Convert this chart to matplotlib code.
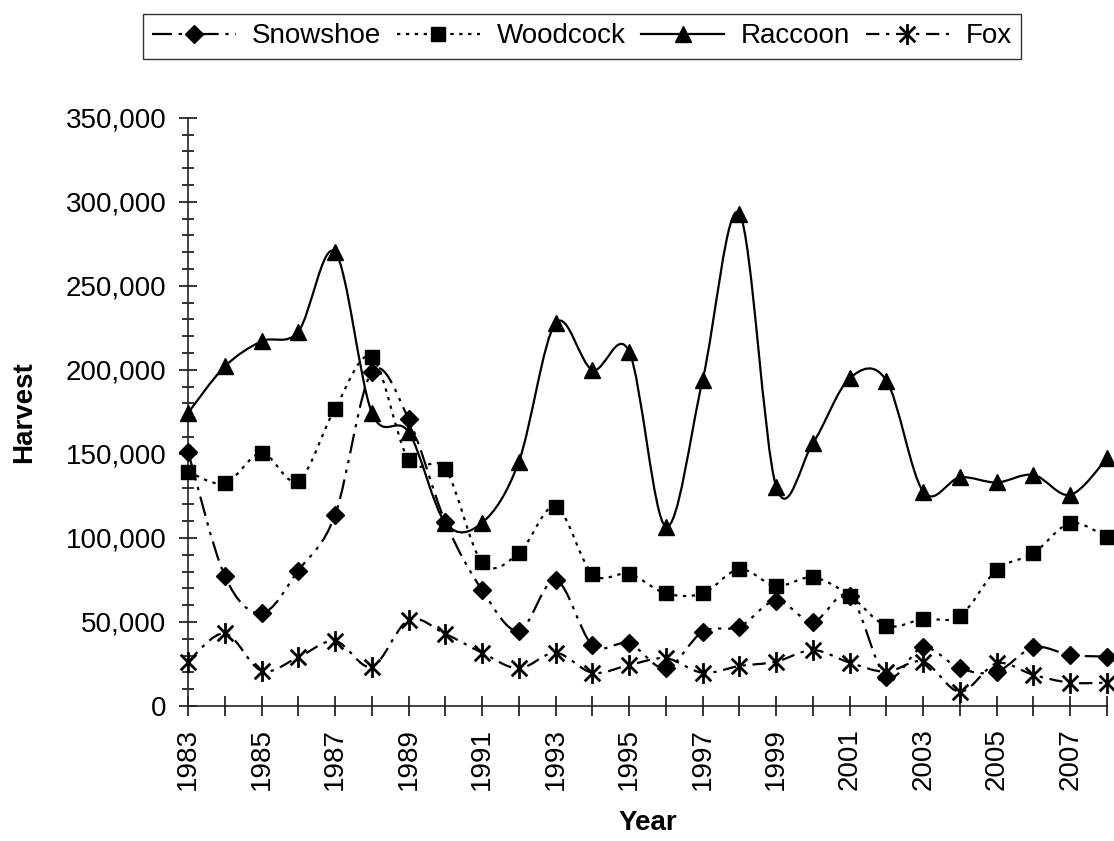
import numpy as np
import matplotlib.pyplot as plt
from matplotlib.path import Path
from matplotlib.patches import PathPatch
from matplotlib.lines import Line2D
from matplotlib.ticker import MultipleLocator, FuncFormatter

plt.rcParams['font.family'] = ['Liberation Sans', 'DejaVu Sans']

years = list(range(1983, 2009))
snowshoe = [151400, 77400, 55200, 80600, 113700, 198800, 170800, 109500, 69000, 44800,
            75000, 36300, 37300, 22400, 44200, 47200, 62700, 50200, 65700, 17500,
            34900, 22400, 20400, 34900, 30400, 29400]
woodcock = [139500, 132500, 150400, 134000, 177000, 207500, 146400, 141000, 85500, 90900,
            118600, 78600, 78600, 67000, 67000, 81400, 71400, 76600, 65700, 47800,
            51800, 53600, 81000, 90900, 108800, 100400]
raccoon = [174400, 202000, 217000, 222800, 270000, 174600, 163000, 109000, 109000, 145400,
           227800, 200000, 210900, 106700, 194000, 293000, 130500, 156400, 195000, 193600,
           127600, 136000, 133000, 137500, 125600, 147400]
fox = [26400, 43200, 21000, 29000, 38700, 23400, 51200, 42900, 31700, 22400,
       31700, 19800, 24400, 28400, 19800, 23800, 26400, 33300, 25800, 20400,
       26400, 8500, 25400, 18500, 13900, 13900]

names = ['Snowshoe', 'Woodcock', 'Raccoon', 'Fox']
series = [snowshoe, woodcock, raccoon, fox]

# asterisk marker like the spreadsheet one: vertical bar plus an X
star = Path([(0, -1), (0, 1), (-0.75, -0.75), (0.75, 0.75), (-0.75, 0.75), (0.75, -0.75)],
            [Path.MOVETO, Path.LINETO, Path.MOVETO, Path.LINETO, Path.MOVETO, Path.LINETO])

styles = [
    dict(ls=(0, (9, 3, 1.5, 3, 1.5, 3)), marker='D', ms=9, mew=1),
    dict(ls=(0, (1.5, 2.5)), marker='s', ms=10, mew=1),
    dict(ls='-', marker='^', ms=11, mew=1),
    dict(ls=(0, (6, 3, 1.5, 3)), marker=star, ms=15, mew=2),
]


def smooth_path(x, y):
    # spreadsheet style smoothed line: cubic bezier through every point
    x = np.asarray(x, float)
    y = np.asarray(y, float)
    pts = np.column_stack([x, y])
    n = len(pts)
    verts = [pts[0]]
    codes = [Path.MOVETO]
    for i in range(n - 1):
        p0 = pts[max(i - 1, 0)]
        p1 = pts[i]
        p2 = pts[i + 1]
        p3 = pts[min(i + 2, n - 1)]
        c1 = p1 + (p2 - p0) / 6.0
        c2 = p2 - (p3 - p1) / 6.0
        verts += [c1, c2, p2]
        codes += [Path.CURVE4] * 3
    return Path(verts, codes)


fig = plt.figure(figsize=(11.14, 8.41), dpi=100)
ax = fig.add_axes([0.1688, 0.1605, 0.9937 - 0.1688, 0.8600 - 0.1605])

handles = []
for name, vals, st in zip(names, series, styles):
    patch = PathPatch(smooth_path(years, vals), fill=False, edgecolor='black',
                      lw=1.6, linestyle=st['ls'], clip_on=False)
    ax.add_patch(patch)
    ax.plot(years, vals, linestyle='none', marker=st['marker'], ms=st['ms'],
            color='black', mec='black', mew=st['mew'], clip_on=False, zorder=3)
    handles.append(Line2D([], [], color='black', lw=1.6, linestyle=st['ls'],
                          marker=st['marker'], ms=st['ms'], mew=st['mew'], label=name))

ax.set_xlim(1983, 2008)
ax.set_ylim(0, 350000)

ax.spines['top'].set_visible(False)
ax.spines['right'].set_visible(False)
for s in ['left', 'bottom']:
    ax.spines[s].set_linewidth(1.2)
    ax.spines[s].set_color('#222222')

ax.yaxis.set_major_locator(MultipleLocator(50000))
ax.yaxis.set_minor_locator(MultipleLocator(10000))
ax.yaxis.set_major_formatter(FuncFormatter(lambda v, p: f'{int(v):,}'))
ax.tick_params(axis='y', which='major', direction='inout', length=13, width=1.1,
               labelsize=20, pad=9)
ax.tick_params(axis='y', which='minor', direction='inout', length=9, width=1.1)

ax.set_xticks(years)
ax.set_xticklabels([str(y) if (y - 1983) % 2 == 0 else '' for y in years], rotation=90)
ax.tick_params(axis='x', which='major', direction='inout', length=14, width=1.1,
               labelsize=20, pad=9)

ax.set_xlabel('Year', fontsize=20, fontweight='bold', va='center')
ax.set_ylabel('Harvest', fontsize=20, fontweight='bold', va='center')
ax.xaxis.set_label_coords(0.5, -0.199)
ax.yaxis.set_label_coords(-0.178, 0.5)

leg = fig.legend(handles=handles, loc='center', bbox_to_anchor=(0.5224, 0.9566), ncol=4,
                 fontsize=20, frameon=True, fancybox=False, edgecolor='black',
                 handlelength=3.0, handletextpad=0.6, columnspacing=0.55,
                 borderpad=0.35, numpoints=1)
leg.get_frame().set_linewidth(1.0)

fig.savefig('out.png', dpi=100)
